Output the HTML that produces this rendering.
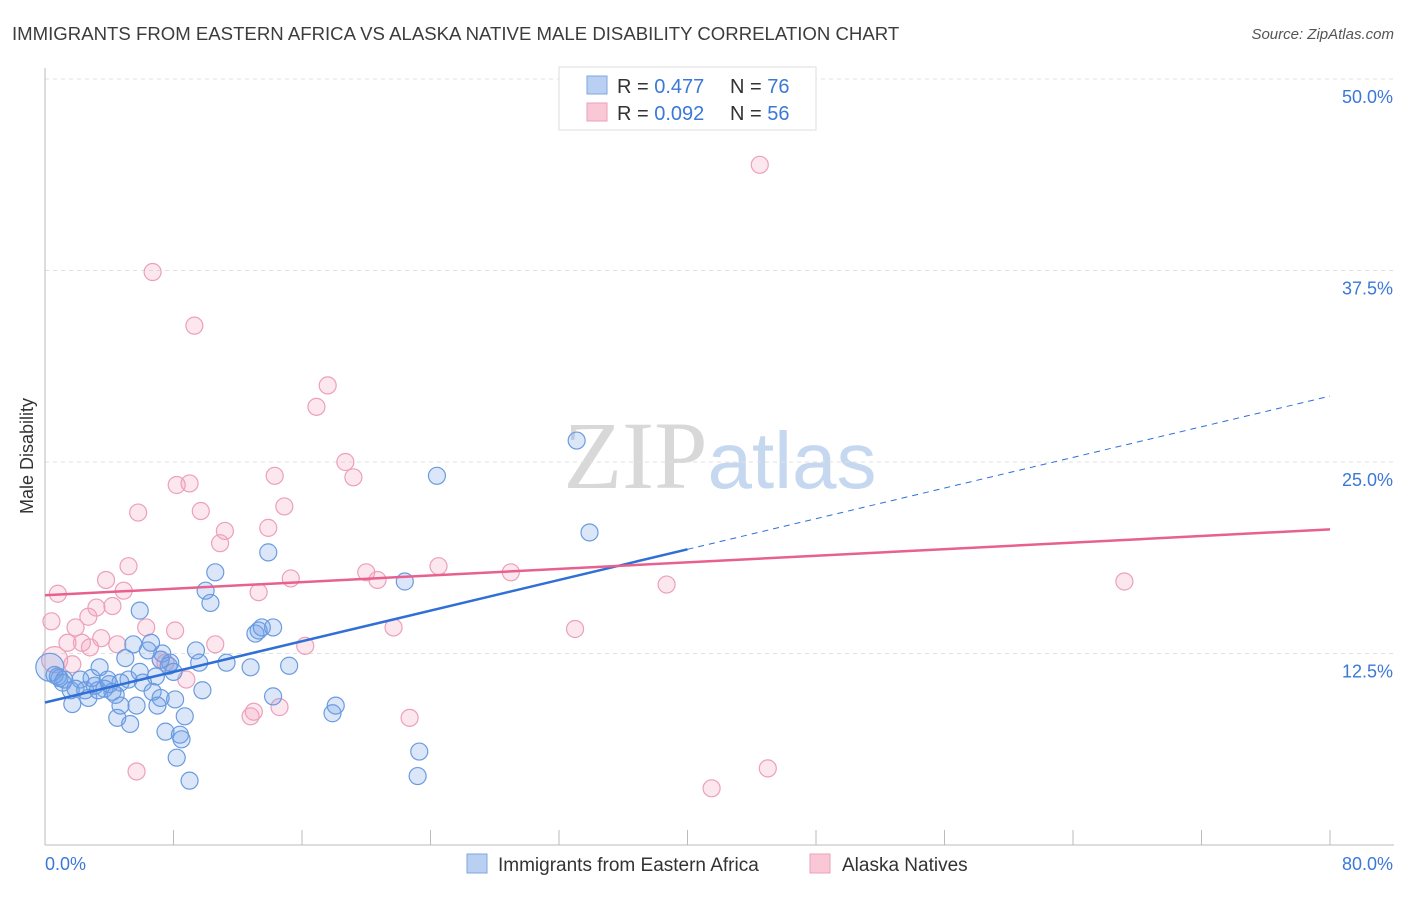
<!DOCTYPE html>
<html><head><meta charset="utf-8"><style>
body{margin:0;background:#fff;font-family:"Liberation Sans",sans-serif;}
svg text{font-family:"Liberation Sans",sans-serif;}
</style></head><body>
<svg id="chart" width="1406" height="892" xmlns="http://www.w3.org/2000/svg">
<text x="12" y="40" font-size="18.6" fill="#3c3c3c">IMMIGRANTS FROM EASTERN AFRICA VS ALASKA NATIVE MALE DISABILITY CORRELATION CHART</text>
<text x="1394" y="39" font-size="15" fill="#555" font-style="italic" text-anchor="end">Source: ZipAtlas.com</text>
<text x="720" y="488" font-size="96" text-anchor="middle"><tspan fill="#d8d8d8" font-family="Liberation Serif">ZIP</tspan><tspan fill="#c6d8ef" font-size="80">atlas</tspan></text>
<g id="grid"></g>
<g id="axes"></g>
<g id="pts"></g>
<g id="lines"></g>
<text transform="translate(33,456) rotate(-90)" font-size="18" fill="#333" text-anchor="middle">Male Disability</text>
<g>
<rect x="559" y="67" width="257" height="63" fill="#fff" stroke="#ddd"/>
<rect x="587" y="76" width="20" height="18" fill="#b9d0f3" stroke="#7fa6e0"/>
<rect x="587" y="103" width="20" height="18" fill="#f9c7d6" stroke="#eba0b8"/>
<text x="617" y="93" font-size="20" fill="#333">R = <tspan fill="#3b78d8">0.477</tspan></text>
<text x="730" y="93" font-size="20" fill="#333">N = <tspan fill="#3b78d8">76</tspan></text>
<text x="617" y="120" font-size="20" fill="#333">R = <tspan fill="#3b78d8">0.092</tspan></text>
<text x="730" y="120" font-size="20" fill="#333">N = <tspan fill="#3b78d8">56</tspan></text>
</g>
<g>
<rect x="467" y="854" width="20" height="19" fill="#b9d0f3" stroke="#7fa6e0"/>
<text x="498" y="871" font-size="19" fill="#333">Immigrants from Eastern Africa</text>
<rect x="810" y="854" width="20" height="19" fill="#f9c7d6" stroke="#eba0b8"/>
<text x="842" y="871" font-size="19" fill="#333">Alaska Natives</text>
</g>
</svg>
<script>
const blueX=[0.3,0.6,0.9,1.2,1.6,1.7,2.2,2.5,2.7,2.9,3.1,3.4,3.7,4.0,4.2,4.5,4.7,5.0,5.2,5.3,5.5,5.7,5.9,6.1,6.4,6.6,6.7,6.9,7.0,7.2,7.3,7.5,7.7,7.8,8.0,8.1,8.2,8.4,8.5,8.7,9.0,9.4,9.6,9.8,10.0,10.3,10.6,11.3,12.8,13.1,13.3,13.5,13.9,14.2,14.2,15.2,17.9,18.1,22.4,23.2,23.3,24.4,33.1,33.9,0.8,1.1,1.9,3.3,3.9,4.4,5.9,4.7,7.2];
const blueY=[11.6,11.1,10.9,10.8,10.1,9.2,10.8,10.1,9.6,10.9,10.4,11.6,10.2,10.5,10.0,8.3,9.1,12.2,10.8,7.9,13.1,9.1,15.3,10.6,12.7,13.2,10.0,11.0,9.1,9.6,12.5,7.4,11.7,11.9,11.3,9.5,5.7,7.2,6.9,8.4,4.2,12.7,11.9,10.1,16.6,15.8,17.8,11.9,11.6,13.8,14.0,14.2,19.1,9.7,14.2,11.7,8.6,9.1,17.2,4.5,6.1,24.1,26.4,20.4,11.0,10.6,10.2,10.1,10.8,9.8,11.3,10.6,12.1];
const pinkX=[0.6,0.4,0.8,1.4,1.7,1.9,2.3,2.7,2.8,3.2,3.5,3.8,4.2,4.5,4.9,5.2,5.7,5.8,6.3,6.7,7.2,7.5,8.1,8.2,8.8,9.0,9.3,9.7,10.6,10.9,11.2,12.8,13.0,13.3,13.9,14.3,14.6,14.9,15.3,16.2,16.9,17.6,18.7,19.2,20.0,20.7,21.7,22.7,24.5,29.0,33.0,38.7,41.5,44.5,45.0,67.2];
const pinkY=[12.1,14.6,16.4,13.2,11.8,14.2,13.2,14.9,12.9,15.5,13.5,17.3,15.6,13.1,16.6,18.2,4.8,21.7,14.2,37.4,12.1,11.9,14.0,23.5,10.8,23.6,33.9,21.8,13.1,19.7,20.5,8.4,8.7,16.5,20.7,24.1,9.0,22.1,17.4,13.0,28.6,30.0,25.0,24.0,17.8,17.3,14.2,8.3,18.2,17.8,14.1,17.0,3.7,44.4,5.0,17.2];
const blueTrend=[9.3,19.3];   // values at x=0 and x=40
const pinkTrend=[16.3,20.6];  // values at x=0 and x=80
const yTicks=[12.5,25.0,37.5,50.0];
const yTickLabels=["12.5%","25.0%","37.5%","50.0%"];
const xTicks=[0,8,16,24,32,40,48,56,64,72,80];

const NS="http://www.w3.org/2000/svg";
const X=v=>45+v/80*1285;
const Y=v=>845-v/50*766;
function mk(tag,attrs,parent){const e=document.createElementNS(NS,tag);for(const k in attrs)e.setAttribute(k,attrs[k]);document.getElementById(parent).appendChild(e);return e;}

yTicks.forEach((t,i)=>{
  const g=mk('line',{x1:45,x2:1394,y1:Y(t),y2:Y(t),stroke:'#e0e0e0','stroke-dasharray':'4,4'},'grid');
  
  
  const tx=mk('text',{x:1393,y:Y(t)+24,'font-size':18,fill:'#3b78d8','text-anchor':'end'},'grid');
  tx.textContent=yTickLabels[i];
  
  
});
const ax=mk('line',{x1:45,x2:1394,y1:845,y2:845,stroke:'#bbb'},'axes');


const ay=mk('line',{x1:45,x2:45,y1:68,y2:845,stroke:'#bbb'},'axes');


xTicks.forEach(t=>{
  const l=mk('line',{x1:X(t),x2:X(t),y1:830,y2:845,stroke:'#bbb'},'axes');
  
  
});
const xl0=mk('text',{x:45,y:870,'font-size':18,fill:'#3b78d8'},'axes');xl0.textContent='0.0%';


const xl1=mk('text',{x:1393,y:870,'font-size':18,fill:'#3b78d8','text-anchor':'end'},'axes');xl1.textContent='80.0%';



pinkX.forEach((x,i)=>{
  const c=mk('circle',{cx:X(x),cy:Y(pinkY[i]),r:i===0?13:8.5,fill:'rgba(244,160,188,0.25)',stroke:'#eca0b9','stroke-width':1.2},'pts');
  
  
});
blueX.forEach((x,i)=>{
  const c=mk('circle',{cx:X(x),cy:Y(blueY[i]),r:i===0?14:8.5,fill:'rgba(110,160,230,0.25)',stroke:'#6a9be0','stroke-width':1.2},'pts');
  
  
});
const slope=(blueTrend[1]-blueTrend[0])/40;
const b1=mk('line',{x1:X(0),y1:Y(blueTrend[0]),x2:X(40),y2:Y(blueTrend[1]),stroke:'#2f6fd6','stroke-width':2.5},'lines');


const b2=mk('line',{x1:X(40),y1:Y(blueTrend[1]),x2:X(80),y2:Y(blueTrend[0]+slope*80),stroke:'#2f6fd6','stroke-width':1,'stroke-dasharray':'6,5'},'lines');


const p1=mk('line',{x1:X(0),y1:Y(pinkTrend[0]),x2:X(80),y2:Y(pinkTrend[1]),stroke:'#e8608d','stroke-width':2.5},'lines');


</script>
</body></html>
